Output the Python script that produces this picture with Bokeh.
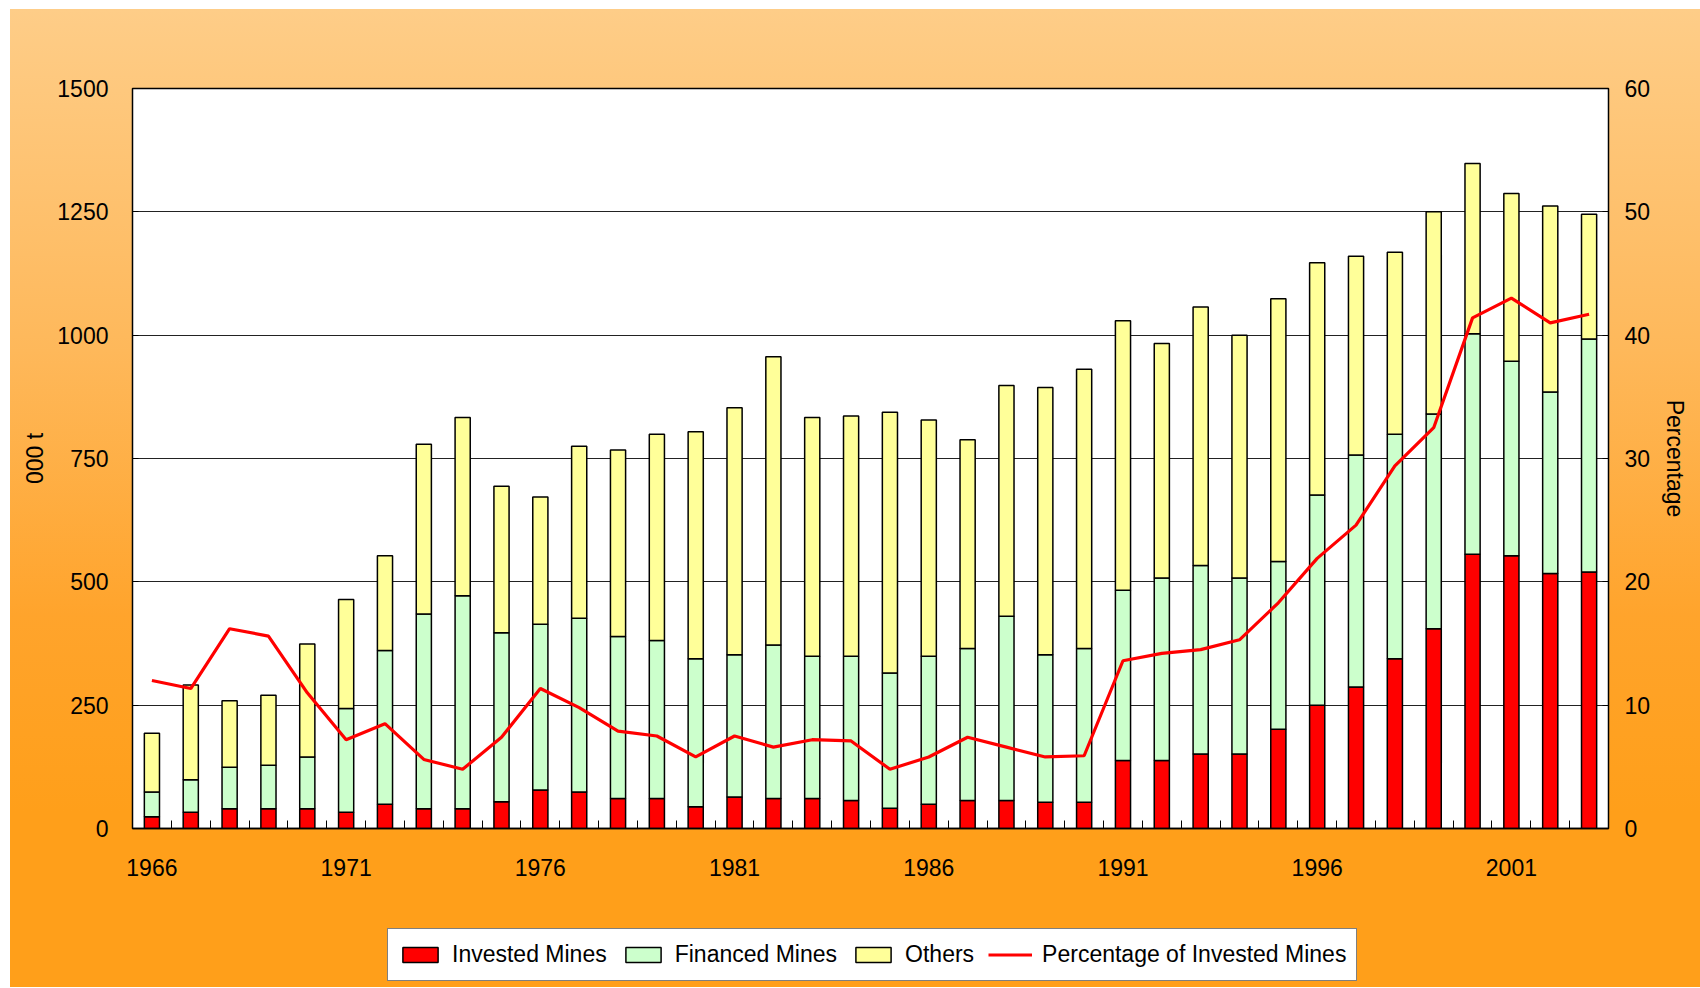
from bokeh.plotting import figure
from bokeh.layouts import column
from bokeh.models import (Range1d, LinearAxis, FixedTicker, Legend, LegendItem,
                          ColumnDataSource)
from bokeh.embed import file_html
from bokeh.resources import INLINE

years = list(range(1966, 2004))
invested = [24, 33, 40, 40, 40, 33, 49, 40, 40, 54, 78, 74, 61, 61, 44, 64, 61, 61, 57, 41,
            49, 57, 57, 53, 53, 138, 138, 151, 151, 201, 250, 287, 344, 405, 556, 553, 517, 520]
financed = [50, 66, 84, 88, 105, 210, 312, 395, 432, 343, 336, 352, 328, 320, 300, 288, 311, 288, 292, 274,
            300, 308, 373, 299, 312, 345, 370, 382, 357, 340, 426, 470, 455, 435, 447, 394, 368, 472]
others = [119, 192, 135, 142, 229, 221, 192, 344, 361, 297, 258, 349, 378, 418, 460, 501, 584, 484, 487, 529,
          479, 423, 468, 542, 566, 546, 475, 524, 492, 533, 471, 403, 369, 410, 345, 340, 377, 253]
percentage = [12.0, 11.35, 16.2, 15.6, 11.0, 7.2, 8.5, 5.6, 4.8, 7.4, 11.35, 9.8, 7.9, 7.5, 5.8, 7.5, 6.6, 7.2, 7.1, 4.8,
              5.8, 7.4, 6.6, 5.8, 5.9, 13.6, 14.2, 14.5, 15.3, 18.3, 21.9, 24.6, 29.4, 32.5, 41.4, 43.0, 41.0, 41.7]
left_ticks = [0, 250, 500, 750, 1000, 1250, 1500]
right_ticks = [0, 10, 20, 30, 40, 50, 60]
year_labels = [1966, 1971, 1976, 1981, 1986, 1991, 1996, 2001]
series_names = ["Invested Mines", "Financed Mines", "Others", "Percentage of Invested Mines"]
bar_fields = ["invested", "financed", "others"]
bar_colors = ["#FF0000", "#CCFFCC", "#FFFF99"]
LINE_COLOR = "#FF0000"

FONT = "Liberation Sans"
FS = "23px"

src = ColumnDataSource(dict(year=years, invested=invested, financed=financed,
                            others=others, pct=percentage))

# ---------------- main chart ----------------
p = figure(width=1690, height=917, output_backend="svg", toolbar_location=None,
           x_range=Range1d(years[0] - 0.5, years[-1] + 0.5),
           y_range=Range1d(0, 1500),
           min_border_left=122, min_border_right=92, min_border_top=79, min_border_bottom=98)
p.extra_y_ranges = {"pct": Range1d(0, 60)}
p.border_fill_alpha = 0
p.background_fill_color = "white"
p.outline_line_color = "black"
p.outline_line_width = 1.5

bars = p.vbar_stack(bar_fields, x="year", width=0.39, source=src,
                    fill_color=bar_colors, line_color="black", line_width=1.5)
line = p.line("year", "pct", source=src, y_range_name="pct", line_color=LINE_COLOR, line_width=3.2)

p.xgrid.grid_line_color = None
p.ygrid.grid_line_color = "#222222"
p.ygrid.grid_line_width = 1
p.ygrid.ticker = FixedTicker(ticks=left_ticks)

xa = p.xaxis[0]
xa.ticker = FixedTicker(ticks=year_labels, minor_ticks=[y + 0.5 for y in years[:-1]])
xa.major_tick_in = 0
xa.major_tick_out = 0
xa.minor_tick_in = 8
xa.minor_tick_out = 0
xa.minor_tick_line_color = "black"
xa.axis_line_color = "black"
xa.axis_line_width = 1.5
xa.major_label_standoff = 30
xa.major_label_text_font = FONT
xa.major_label_text_font_size = FS
xa.major_label_text_color = "black"

ya = p.yaxis[0]
ya.ticker = FixedTicker(ticks=left_ticks)
ya.major_tick_in = 6
ya.major_tick_out = 0
ya.minor_tick_line_color = None
ya.axis_line_color = "black"
ya.major_label_standoff = 24
ya.major_label_text_font = FONT
ya.major_label_text_font_size = FS
ya.major_label_text_color = "black"
ya.axis_label = "000 t"
ya.axis_label_text_font = FONT
ya.axis_label_text_font_size = FS
ya.axis_label_text_font_style = "normal"
ya.axis_label_text_color = "black"
ya.axis_label_standoff = 6

ra = LinearAxis(y_range_name="pct", ticker=FixedTicker(ticks=right_ticks), axis_label="Percentage")
ra.major_tick_in = 6
ra.major_tick_out = 0
ra.minor_tick_line_color = None
ra.axis_line_color = "black"
ra.major_label_standoff = 16
ra.major_label_text_font = FONT
ra.major_label_text_font_size = FS
ra.major_label_text_color = "black"
ra.axis_label_text_font = FONT
ra.axis_label_text_font_size = FS
ra.axis_label_text_font_style = "normal"
ra.axis_label_text_color = "black"
ra.axis_label_standoff = 9
p.add_layout(ra, "right")

# ---------------- legend strip ----------------
# hidden renderers that only supply the legend swatches
lf = figure(width=1690, height=61, output_backend="svg", toolbar_location=None,
            x_range=Range1d(0, 1), y_range=Range1d(-2, -1),
            x_axis_location=None, y_axis_location=None, min_border=0)
lf.border_fill_alpha = 0
lf.background_fill_alpha = 0
lf.outline_line_color = None
lf.xgrid.grid_line_color = None
lf.ygrid.grid_line_color = None

leg_renderers = [lf.vbar(x="year", top=f, width=0.39, source=src, fill_color=c,
                         line_color="black", line_width=1.5)
                 for f, c in zip(bar_fields, bar_colors)]
leg_renderers.append(lf.line(x="year", y="pct", source=src, line_color=LINE_COLOR, line_width=3.2))
for r in leg_renderers:
    r.visible = False

legend = Legend(items=[LegendItem(label=n, renderers=[r]) for n, r in zip(series_names, leg_renderers)],
                orientation="horizontal", location=(255, 6))
legend.click_policy = "none"
legend.inactive_fill_alpha = 0
legend.label_text_font = FONT
legend.label_text_font_size = FS
legend.label_text_color = "black"
legend.label_height = 31
legend.glyph_width = 44
legend.glyph_height = 19
legend.label_standoff = 10
legend.spacing = 14
legend.padding = 10
legend.margin = 0
legend.border_line_color = "black"
legend.border_line_width = 1.5
legend.background_fill_color = "white"
legend.background_fill_alpha = 1
lf.add_layout(legend, "center")

layout = column(p, lf, spacing=0)
layout.margin = (9, 0, 0, 10)
layout.styles = {"background": "linear-gradient(to bottom, #FECD88 0%, #FEB85A 35%, #FFA42C 62%, #FF9F1A 82%, #FF9F1A 100%)"}

open("out.html", "w").write(file_html(layout, INLINE))
